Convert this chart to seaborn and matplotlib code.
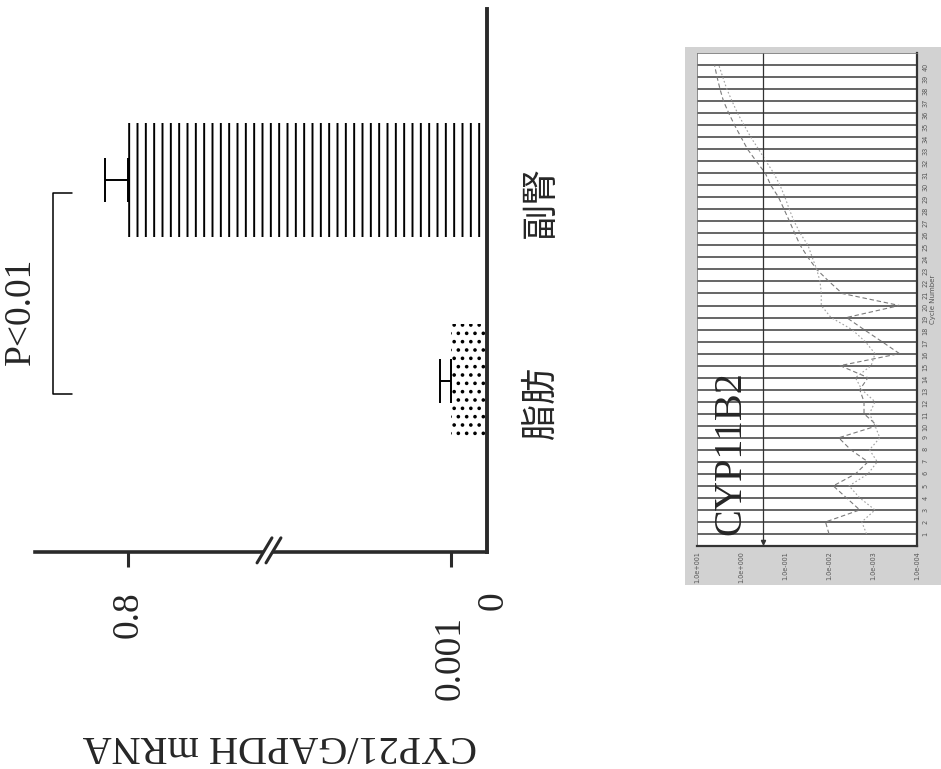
import numpy as np
import pandas as pd
import matplotlib
matplotlib.use('Agg')
import matplotlib.pyplot as plt
import matplotlib.transforms as mtransforms
from matplotlib.patches import Rectangle, Polygon
import seaborn as sns

# main bar chart data (CYP21/GAPDH mRNA)
categories = ['副腎', '脂肪']
means = [0.8, 0.001]
errs = [0.05, 0.0003]
hatches = ['||', '..']
left_ticks = [0.8]
left_ticklabels = ['0.8']
right_ticks = [0.001, 0]
right_ticklabels = ['0.001', '0']

# inset: CYP11B2 amplification plot (value per cycle)
cycles = list(range(1, 41))
curve_a = [0.01, 0.012, 0.002, 0.004, 0.008, 0.0025, 0.0013, 0.0032, 0.006, 0.0008,
           0.0016, 0.0016, 0.002, 0.0013, 0.0056, 0.00025, 0.00063, 0.0016, 0.004, 0.00025,
           0.005, 0.010, 0.019, 0.030, 0.045, 0.060, 0.079, 0.105, 0.14, 0.21,
           0.28, 0.45, 0.71, 1.0, 1.4, 1.9, 2.5, 3.0, 3.5, 4.0]
curve_b = [0.0014, 0.0018, 0.0009, 0.002, 0.0035, 0.0013, 0.0008, 0.0012, 0.0007, 0.0009,
           0.0012, 0.0009, 0.0018, 0.0025, 0.0011, 0.0009, 0.0015, 0.003, 0.009, 0.015,
           0.015, 0.016, 0.019, 0.024, 0.03, 0.045, 0.062, 0.08, 0.10, 0.13,
           0.18, 0.27, 0.4, 0.6, 0.85, 1.2, 1.6, 2.1, 2.6, 3.2]
log_ticks = [10, 1, 0.1, 0.01, 0.001, 0.0001]
log_ticklabels = ['1.0e+001', '1.0e+000', '1.0e-001', '1.0e-002', '1.0e-003', '1.0e-004']
threshold = 0.32

sns.set_style('white')
plt.rcParams['font.family'] = ['Liberation Serif', 'Noto Sans CJK JP']
plt.rcParams['hatch.linewidth'] = 1.4

W, H = 941, 769
fig = plt.figure(figsize=(W / 100, H / 100), dpi=100)


def box(x0, y0, x1, y1):
    return [x0 / W, 1 - y1 / H, (x1 - x0) / W, (y1 - y0) / H]


def shift(label, dx, dy):
    label.set_transform(label.get_transform() +
                        mtransforms.ScaledTranslation(dx / 100, dy / 100, fig.dpi_scale_trans))


axis_col = '#2a2a2a'

# broken value axis: left part (0.5-1.0), right part (0-0.006), both inverted
ax_l = fig.add_axes(box(35, 9, 268, 552))
ax_r = fig.add_axes(box(268, 9, 487, 552))

for ax in (ax_l, ax_r):
    sns.barplot(x=means, y=categories, orient='h', color='white', width=0.57,
                errorbar=None, ax=ax)
    for patch, h in zip(ax.patches, hatches):
        patch.set_facecolor('white')
        patch.set_edgecolor('black')
        patch.set_hatch(h)
        patch.set_linewidth(0)
    ax.errorbar(means, np.arange(len(categories)), xerr=[np.zeros(len(means)), errs],
                fmt='none', ecolor='black', elinewidth=1.4, capsize=16, capthick=1.4)
    ax.set_ylim(1.85, -0.85)
    ax.set_xlabel('')
    ax.set_ylabel('')
    ax.set_facecolor('none')
    ax.spines['top'].set_visible(False)
    ax.spines['left'].set_visible(False)
    ax.spines['bottom'].set_linewidth(2.6)
    ax.spines['bottom'].set_color(axis_col)
    ax.tick_params(axis='x', direction='out', length=11, width=2.2, color=axis_col,
                   pad=17, labelsize=27, labelrotation=90, bottom=True)

ax_l.set_xlim(1.0, 0.5)
ax_l.spines['right'].set_visible(False)
ax_l.set_xticks(left_ticks)
ax_l.set_xticklabels(left_ticklabels)
ax_l.tick_params(axis='y', left=False, labelleft=False)

ax_r.set_xlim(0.006, 0)
ax_r.spines['right'].set_linewidth(2.8)
ax_r.spines['right'].set_color(axis_col)
ax_r.set_xticks(right_ticks)
ax_r.set_xticklabels(right_ticklabels)
ax_r.xaxis.get_major_ticks()[1].tick1line.set_visible(False)
shift(ax_r.get_xticklabels()[0], 0, -25)
shift(ax_r.get_xticklabels()[1], 6, 0)
ax_r.yaxis.tick_right()
ax_r.tick_params(axis='y', length=0, pad=26, labelsize=26, labelrotation=90)
for lab in ax_r.get_yticklabels():
    lab.set_fontfamily(['Noto Sans CJK JP'])
    lab.set_verticalalignment('center')
    shift(lab, 0, -22)

# axis break mark
brk = [(-0.050, -0.020), (0.018, 0.026), (0.059, 0.026), (-0.009, -0.020)]
ax_r.add_patch(Polygon(brk, closed=True, facecolor='white', edgecolor='none',
                       transform=ax_r.transAxes, clip_on=False, zorder=5))
for dx in (0, 0.041):
    ax_r.plot([-0.050 + dx, 0.018 + dx], [-0.020, 0.026], color=axis_col, lw=2.2,
              transform=ax_r.transAxes, clip_on=False, zorder=6)

# significance bracket
ax_l.plot([0.159, 0.077, 0.077, 0.159], [0.661, 0.661, 0.291, 0.291], color='black',
          lw=1.1, transform=ax_l.transAxes, clip_on=False)
fig.text(38 / W, 1 - 311 / H, 'P<0.01', rotation=90, ha='right', va='center', fontsize=27)

fig.text(280 / W, 1 - 746 / H, 'CYP21/GAPDH mRNA', rotation=180, ha='center',
         va='center', fontsize=29)

# inset amplification plot on a grey card
fig.patches.append(Rectangle((685 / W, 1 - 585 / H), (941 - 685) / W, (585 - 47) / H,
                             transform=fig.transFigure, facecolor='#d2d2d2',
                             edgecolor='none', zorder=-5))
ax_in = fig.add_axes(box(697, 53, 917, 546))
ax_in.set_facecolor('white')
df = pd.DataFrame({
    'cycle': cycles + cycles,
    'value': curve_a + curve_b,
    'curve': ['a'] * len(cycles) + ['b'] * len(cycles),
})
sns.lineplot(data=df, x='value', y='cycle', hue='curve', style='curve',
             palette=['#7a7a7a', '#a0a0a0'], dashes=[(4, 2.5), (1.5, 2)],
             estimator=None, orient='y', legend=False, lw=0.8, ax=ax_in)
ax_in.set_xscale('log')
ax_in.set_xlim(10, 1e-4)
ax_in.set_ylim(0, 41)
ax_in.set_yticks(cycles)
ax_in.set_yticklabels([str(c) for c in cycles])
ax_in.set_xticks(log_ticks)
ax_in.set_xticklabels(log_ticklabels)
ax_in.xaxis.set_minor_locator(matplotlib.ticker.NullLocator())
ax_in.grid(axis='y', color='#3c3c3c', lw=1.1)
ax_in.grid(axis='x', visible=False)
ax_in.yaxis.tick_right()
ax_in.yaxis.set_label_position('right')
ax_in.tick_params(axis='both', length=0, labelsize=4.7, labelcolor='#555555',
                  labelrotation=90, pad=4)
for lab in ax_in.get_xticklabels() + ax_in.get_yticklabels():
    lab.set_fontfamily(['DejaVu Sans'])
ax_in.set_xlabel('')
ax_in.set_ylabel('Cycle Number', fontsize=5, color='#555555', family='DejaVu Sans',
                 rotation=90, labelpad=1)
for side in ('right', 'bottom'):
    ax_in.spines[side].set_linewidth(1.6)
    ax_in.spines[side].set_color('#333333')
for side in ('left', 'top'):
    ax_in.spines[side].set_linewidth(0.6)
    ax_in.spines[side].set_color('#777777')
ax_in.axvline(threshold, color='#333333', lw=0.9)
ax_in.plot([threshold], [0.3], marker='v', ms=3, color='#333333')
fig.text(749 / W, 1 - 453 / H, 'CYP11B2', rotation=90, ha='right', va='center',
         fontsize=29)

fig.savefig('out.png', dpi=100, facecolor='white')
